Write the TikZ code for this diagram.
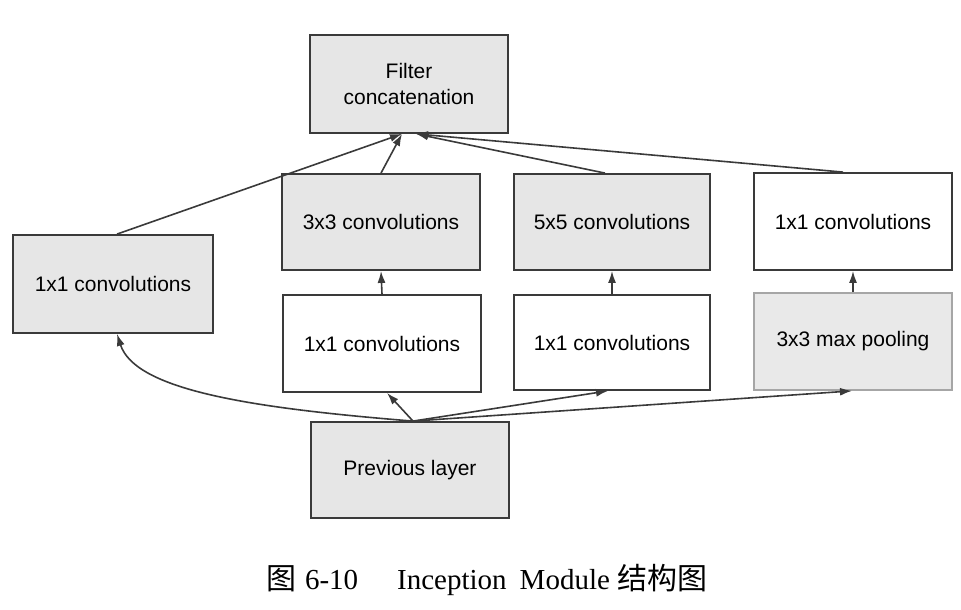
\documentclass[tikz,border=0pt]{standalone}
\usepackage{fontspec}
\setmainfont{Liberation Serif}
\setsansfont{Liberation Sans}
\newfontfamily\cjk{Noto Sans CJK SC}
\usetikzlibrary{arrows.meta,calc}
\definecolor{boxgray}{HTML}{E6E6E6}
\definecolor{poolgray}{HTML}{E9E9E9}
\definecolor{linegray}{HTML}{3A3A3A}
\tikzset{
  blk/.style={draw=linegray,line width=1.8pt,fill=white,minimum width=198pt,minimum height=97pt,
    font=\sffamily\fontsize{21}{26}\selectfont,align=center,inner sep=0pt},
  graybox/.style={blk,fill=boxgray},
  poolbox/.style={blk,fill=poolgray,draw=gray!70},
  conn/.style={draw=linegray,line width=1.6pt,-{Latex[length=12pt,width=8pt]}},
}
\begin{document}
\begin{tikzpicture}[x=1pt,y=-1pt]
\useasboundingbox (0,0) rectangle (961,610);
\node[graybox,minimum height=98pt] (filt) at (409,84) {Filter\\concatenation};
\node[graybox,minimum height=96pt] (c3) at (381,222) {3x3 convolutions};
\node[graybox,minimum width=196pt,minimum height=96pt] (c5) at (612,222) {5x5 convolutions};
\node[blk] (r1) at (853,221.5) {1x1 convolutions};
\node[graybox,minimum width=200pt,minimum height=98pt] (l1) at (113,284) {1x1 convolutions};
\node[blk] (m1) at (382,343.5) {1x1 convolutions};
\node[blk,minimum width=196pt,minimum height=95pt] (n1) at (612,342.5) {1x1 convolutions};
\node[poolbox] (pool) at (853,341.5) {3x3 max pooling};
\node[graybox,minimum height=96pt] (prev) at (410,470) {Previous layer};
% to concatenation
\draw[conn] ([xshift=4pt]l1.north) -- ([xshift=-7pt]filt.south);
\draw[conn] (c3.north) -- ([xshift=-7pt]filt.south);
\draw[conn] ([xshift=-7pt]c5.north) -- ([xshift=7pt]filt.south);
\draw[conn] ([xshift=-10pt]r1.north) -- ([xshift=7pt]filt.south);
% inner vertical
\draw[conn] (m1.north) -- (c3.south);
\draw[conn] (n1.north) -- (c5.south);
\draw[conn] (pool.north) -- (r1.south);
% from previous layer
\draw[conn] ([xshift=3pt]prev.north) .. controls (250,408) and (135,390) .. ([xshift=4pt]l1.south);
\draw[conn] ([xshift=3pt]prev.north) -- ([xshift=5pt]m1.south);
\draw[conn] ([xshift=3pt]prev.north) -- ([xshift=-4pt]n1.south);
\draw[conn] ([xshift=3pt]prev.north) -- ([xshift=-1pt]pool.south);
% caption
\node[font=\fontsize{29}{32}\selectfont,inner sep=0pt] (cap) at (487,580)
  {{\cjk\fontsize{30}{32}\selectfont 图}\hspace{9pt}6-10\hspace{39pt}Inception\hspace{13pt}Module\hspace{8pt}{\cjk\fontsize{30}{32}\selectfont 结构图}};
\end{tikzpicture}
\end{document}
